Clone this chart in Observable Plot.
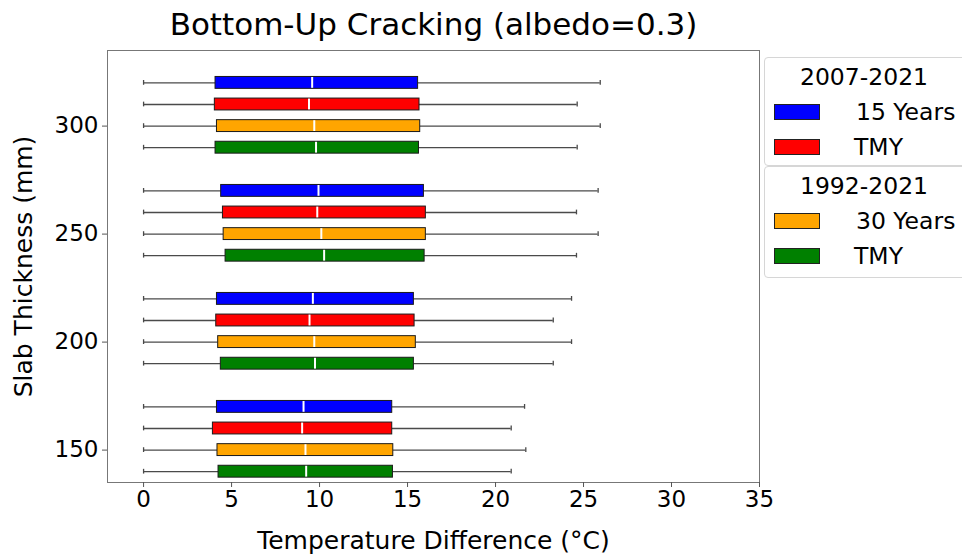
<!DOCTYPE html>
<html><head><meta charset="utf-8">
<script src="https://cdn.jsdelivr.net/npm/d3@7"></script>
<script src="https://cdn.jsdelivr.net/npm/@observablehq/plot@0.6"></script>
<style>
html,body{margin:0;padding:0;background:#fff;overflow:hidden;}
body{font-family:"DejaVu Sans",sans-serif;}
#wrap{position:relative;width:962px;height:557px;overflow:hidden;}
.lg{position:absolute;left:764px;width:210px;border:1px solid #d6d6d6;border-radius:4px;background:#fff;box-sizing:border-box;}
.lg .t{position:absolute;left:0;width:198px;text-align:center;font-size:23.5px;line-height:28px;color:#000;}
.lg .p{position:absolute;left:9px;width:46px;height:16px;border:1px solid #222;box-sizing:border-box;}
.lg .l{position:absolute;left:89px;font-size:23.5px;line-height:28px;color:#000;white-space:nowrap;}
</style>
</head><body>
<div id="wrap"></div>
<script>
// Categories
const thicknesses = [150, 200, 250, 300];
const seriesNames = ["15 Years (2007-2021)", "TMY (2007-2021)", "30 Years (1992-2021)", "TMY (1992-2021)"];
const seriesColors = ["#0000ff", "#ff0000", "#ffa500", "#008000"];
const xTicks = [0, 5, 10, 15, 20, 25, 30, 35];
const yTicks = [150, 200, 250, 300];

// Values per thickness (150, 200, 250, 300)
const min_15yr = [0, 0, 0, 0];
const q1_15yr = [4.17, 4.17, 4.41, 4.09];
const med_15yr = [9.09, 9.62, 9.94, 9.58];
const q3_15yr = [14.13, 15.36, 15.93, 15.60];
const max_15yr = [21.65, 24.32, 25.83, 25.95];

const min_tmy07 = [0, 0, 0, 0];
const q1_tmy07 = [3.94, 4.13, 4.51, 4.05];
const med_tmy07 = [9.01, 9.43, 9.87, 9.40];
const q3_tmy07 = [14.13, 15.40, 16.04, 15.68];
const max_tmy07 = [20.89, 23.28, 24.60, 24.64];

const min_30yr = [0, 0, 0, 0];
const q1_30yr = [4.20, 4.24, 4.55, 4.17];
const med_30yr = [9.20, 9.70, 10.10, 9.70];
const q3_30yr = [14.19, 15.47, 16.04, 15.72];
const max_30yr = [21.72, 24.32, 25.83, 25.95];

const min_tmy92 = [0, 0, 0, 0];
const q1_tmy92 = [4.26, 4.39, 4.66, 4.09];
const med_tmy92 = [9.24, 9.74, 10.26, 9.80];
const q3_tmy92 = [14.17, 15.36, 15.97, 15.65];
const max_tmy92 = [20.89, 23.28, 24.60, 24.64];

const stats = [
  [min_15yr, q1_15yr, med_15yr, q3_15yr, max_15yr],
  [min_tmy07, q1_tmy07, med_tmy07, q3_tmy07, max_tmy07],
  [min_30yr, q1_30yr, med_30yr, q3_30yr, max_30yr],
  [min_tmy92, q1_tmy92, med_tmy92, q3_tmy92, max_tmy92]
];
const offsets = [20, 10, 0, -10];
const halfBox = 2.75;
const halfCap = 1.1;

const rows = [];
stats.forEach((s, si) => {
  thicknesses.forEach((t, ti) => {
    rows.push({
      series: seriesNames[si],
      yc: t + offsets[si],
      min: s[0][ti], q1: s[1][ti], med: s[2][ti], q3: s[3][ti], max: s[4][ti]
    });
  });
});

const whisk = "#4a4a4a";
const chart = Plot.plot({
  width: 962,
  height: 557,
  marginLeft: 107,
  marginRight: 203,
  marginTop: 50,
  marginBottom: 75,
  style: {fontFamily: "DejaVu Sans, sans-serif", fontSize: "23px", color: "#000", background: "#fff"},
  x: {domain: [-2.05, 35]},
  y: {domain: [135, 335]},
  color: {domain: seriesNames, range: seriesColors},
  marks: [
    Plot.ruleY(rows, {y: "yc", x1: "min", x2: "q1", stroke: whisk, strokeWidth: 1.3}),
    Plot.ruleY(rows, {y: "yc", x1: "q3", x2: "max", stroke: whisk, strokeWidth: 1.3}),
    Plot.ruleX(rows, {x: "min", y1: d => d.yc - halfCap, y2: d => d.yc + halfCap, stroke: whisk, strokeWidth: 1.3}),
    Plot.ruleX(rows, {x: "max", y1: d => d.yc - halfCap, y2: d => d.yc + halfCap, stroke: whisk, strokeWidth: 1.3}),
    Plot.rect(rows, {x1: "q1", x2: "q3", y1: d => d.yc - halfBox, y2: d => d.yc + halfBox, fill: "series", stroke: "#1a1a1a", strokeWidth: 1}),
    Plot.ruleX(rows, {x: "med", y1: d => d.yc - halfBox + 0.25, y2: d => d.yc + halfBox - 0.25, stroke: "#fff", strokeWidth: 2}),
    Plot.frame({stroke: "#777", strokeWidth: 1}),
    Plot.axisX({ticks: xTicks, tickSize: 5, tickPadding: 3, label: null, fontSize: 23, stroke: "#555"}),
    Plot.axisY({ticks: yTicks, tickSize: 5, tickPadding: 4, label: null, fontSize: 23, stroke: "#555"}),
    Plot.text(["Bottom-Up Cracking (albedo=0.3)"], {frameAnchor: "top", dy: -38, fontSize: 31, fill: "#000"}),
    Plot.text(["Temperature Difference (°C)"], {frameAnchor: "bottom", dy: 66, fontSize: 25, fill: "#000"}),
    Plot.text(["Slab Thickness (mm)"], {frameAnchor: "left", textAnchor: "middle", dx: -84, rotate: -90, fontSize: 25, fill: "#000"})
  ]
});
const wrap = document.getElementById("wrap");
wrap.appendChild(chart);

// Legend (two grouped boxes)
const groups = [
  {title: "2007-2021", top: 57, height: 109, items: [["15 Years", seriesColors[0]], ["TMY", seriesColors[1]]]},
  {title: "1992-2021", top: 166, height: 112, items: [["30 Years", seriesColors[2]], ["TMY", seriesColors[3]]]}
];
groups.forEach(g => {
  const box = document.createElement("div");
  box.className = "lg";
  box.style.top = g.top + "px";
  box.style.height = g.height + "px";
  const t = document.createElement("div");
  t.className = "t"; t.textContent = g.title; t.style.top = "5px";
  box.appendChild(t);
  g.items.forEach(([name, col], i) => {
    const p = document.createElement("div");
    p.className = "p"; p.style.background = col; p.style.top = (46 + i * 35) + "px";
    box.appendChild(p);
    const l = document.createElement("div");
    l.className = "l"; l.textContent = name; l.style.top = (40 + i * 35) + "px";
    if (name !== "TMY") l.style.left = "91px";
    box.appendChild(l);
  });
  wrap.appendChild(box);
});
</script>
</body></html>
